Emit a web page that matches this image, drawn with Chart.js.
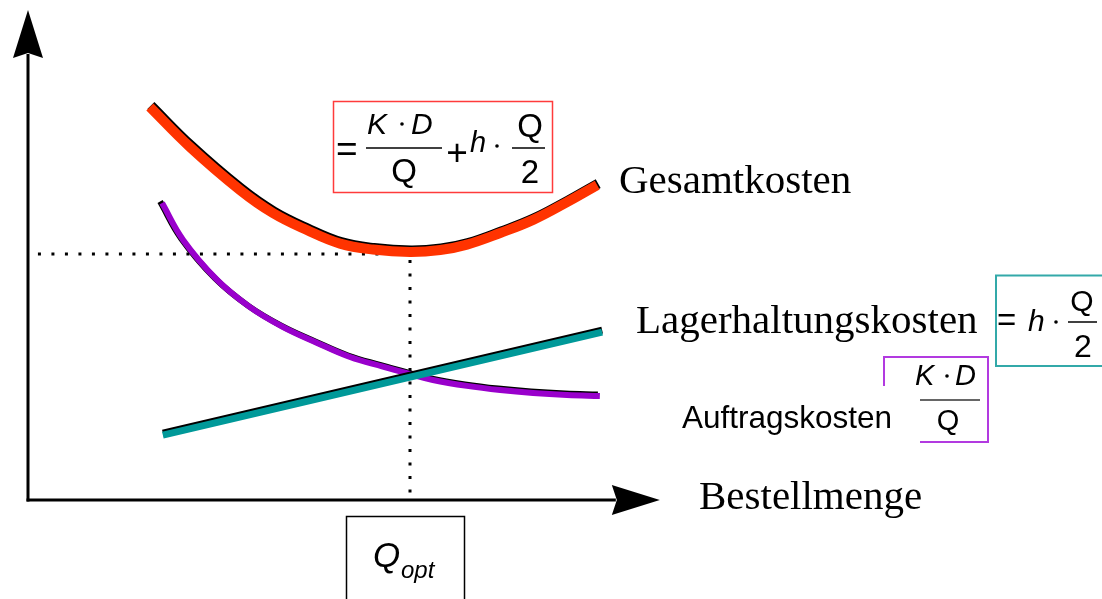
<!DOCTYPE html>
<html lang="de">
<head>
<meta charset="utf-8">
<title>Optimale Bestellmenge</title>
<script src="https://cdn.jsdelivr.net/npm/chart.js@4/dist/chart.umd.min.js"></script>
<style>
  html, body { margin: 0; padding: 0; background: #ffffff; }
  #rahmen { width: 1102px; height: 599px; position: relative; }
</style>
</head>
<body>
<div id="rahmen"><canvas id="kostenChart"></canvas></div>
<script>
// Werte: Bestellmenge Q (Qopt = 10) und Kosten
const mengeGesamt  = [3.19, 4.24, 5.55, 6.41, 7.30, 8.17, 9.03, 10.0, 10.79, 11.49, 12.36, 13.22, 14.11, 14.90];
const kostenGesamt = [15.91, 14.29, 12.55, 11.62, 10.93, 10.38, 10.14, 10.04, 10.12, 10.34, 10.81, 11.34, 12.06, 12.75];

const mengeAuftrag  = [3.51, 4.06, 4.95, 5.81, 6.68, 7.57, 8.43, 9.29, 10.0, 10.60, 11.49, 12.36, 13.22, 14.11, 14.97];
const kostenAuftrag = [12.02, 10.53, 8.91, 7.81, 7.00, 6.36, 5.79, 5.40, 5.10, 4.86, 4.62, 4.45, 4.33, 4.25, 4.21];

const mengeLager  = [3.53, 15.03];
const kostenLager = [2.63, 6.80];

// gepunktete Hilfslinie zum Minimum
const mengeHilfslinie  = [0.26, 10, 10];
const kostenHilfslinie = [9.96, 9.96, 0];

// Achsenenden (Pfeilspitzen)
const achseMengeEnde = 16.54;
const achseKostenEnde = 19.84;

const punkte = (xs, ys) => xs.map((x, i) => ({ x: x, y: ys[i] }));

// Schwarzer "Schatten" unter den farbigen Kurven (leicht versetzt)
const schattenPlugin = {
    id: 'schatten',
    beforeDatasetDraw(chart, args) {
        const v = chart.data.datasets[args.index].versatz;
        chart.ctx.save();
        if (v) chart.ctx.translate(v[0], v[1]);
    },
    afterDatasetDraw(chart) { chart.ctx.restore(); }
};

function pfeil(ctx, tx, ty, dx, dy) {
    const L = 48, w = 15, kerbe = 5;
    const nx = -dy, ny = dx;
    ctx.beginPath();
    ctx.moveTo(tx, ty);
    ctx.lineTo(tx - L * dx + w * nx, ty - L * dy + w * ny);
    ctx.lineTo(tx - (L - kerbe) * dx, ty - (L - kerbe) * dy);
    ctx.lineTo(tx - L * dx - w * nx, ty - L * dy - w * ny);
    ctx.closePath();
    ctx.fill();
}

function text(ctx, s, x, y, font, align) {
    ctx.font = font;
    ctx.textAlign = align || 'left';
    ctx.textBaseline = 'alphabetic';
    ctx.fillText(s, x, y);
}

function punkt(ctx, x, y) {
    ctx.beginPath();
    ctx.arc(x, y, 1.8, 0, Math.PI * 2);
    ctx.fill();
}

function linie(ctx, x1, y1, x2, y2, breite) {
    ctx.lineWidth = breite;
    ctx.beginPath();
    ctx.moveTo(x1, y1);
    ctx.lineTo(x2, y2);
    ctx.stroke();
}

const achsenPlugin = {
    id: 'achsen',
    beforeDatasetsDraw(chart) {
        const ctx = chart.ctx;
        const xs = chart.scales.x, ys = chart.scales.y;
        const x0 = xs.getPixelForValue(0), y0 = ys.getPixelForValue(0);
        const xEnde = xs.getPixelForValue(achseMengeEnde);
        const yEnde = ys.getPixelForValue(achseKostenEnde);
        ctx.save();
        ctx.strokeStyle = '#000000';
        ctx.fillStyle = '#000000';
        ctx.lineCap = 'butt';
        linie(ctx, x0, y0 + 1.5, x0, yEnde + 44, 3);
        linie(ctx, x0 - 1.5, y0, xEnde - 44, y0, 3);
        pfeil(ctx, x0, yEnde, 0, -1);
        pfeil(ctx, xEnde, y0, 1, 0);
        ctx.restore();
    },
    afterDraw(chart) {
        const ctx = chart.ctx;
        ctx.save();
        ctx.fillStyle = '#000000';
        ctx.strokeStyle = '#000000';

        // Beschriftungen
        const serif = '41px "Liberation Serif", "Times New Roman", serif';
        text(ctx, 'Gesamtkosten', 619, 193, serif);
        text(ctx, 'Lagerhaltungskosten', 636, 333, serif);
        text(ctx, 'Bestellmenge', 699, 509, serif);
        text(ctx, 'Auftragskosten', 682, 428, '31.5px "Liberation Sans", Arial, sans-serif');

        const sans = (px) => px + 'px "Liberation Sans", Arial, sans-serif';
        const kursiv = (px) => 'italic ' + px + 'px "Liberation Sans", Arial, sans-serif';

        // Formel Gesamtkosten (roter Kasten)
        ctx.strokeStyle = '#ff3b3b';
        ctx.lineWidth = 1.5;
        ctx.strokeRect(333.5, 101.5, 219, 91);
        ctx.strokeStyle = '#000000';
        text(ctx, '=', 336, 161, sans(37));
        text(ctx, 'K', 367, 134, kursiv(30));
        punkt(ctx, 402, 124);
        text(ctx, 'D', 411, 134, kursiv(30));
        linie(ctx, 366, 148, 442, 148, 1.5);
        text(ctx, 'Q', 404, 182, sans(33), 'center');
        text(ctx, '+', 457, 165, sans(37), 'center');
        text(ctx, 'h', 470, 152, kursiv(29));
        punkt(ctx, 497, 146);
        linie(ctx, 512, 148, 545, 148, 1.5);
        text(ctx, 'Q', 530, 137, sans(33), 'center');
        text(ctx, '2', 530, 183, sans(33), 'center');

        // Formel Lagerhaltungskosten (tuerkiser Kasten)
        ctx.strokeStyle = '#33a9a9';
        ctx.lineWidth = 2;
        ctx.strokeRect(996, 275.5, 200, 90.5);
        ctx.strokeStyle = '#000000';
        text(ctx, '=', 997, 331, sans(33));
        text(ctx, 'h', 1028, 331, kursiv(30));
        punkt(ctx, 1056, 322);
        linie(ctx, 1068, 322, 1097, 322, 1.5);
        text(ctx, 'Q', 1082, 311, sans(30), 'center');
        text(ctx, '2', 1083, 357, sans(32), 'center');

        // Formel Auftragskosten (violetter Kasten, offen)
        ctx.strokeStyle = '#b23ae0';
        ctx.lineWidth = 2;
        ctx.beginPath();
        ctx.moveTo(884, 386);
        ctx.lineTo(884, 357);
        ctx.lineTo(988, 357);
        ctx.lineTo(988, 442);
        ctx.lineTo(920, 442);
        ctx.stroke();
        ctx.strokeStyle = '#333333';
        text(ctx, 'K', 915, 385, kursiv(29));
        punkt(ctx, 947, 376);
        text(ctx, 'D', 955, 385, kursiv(29));
        linie(ctx, 920, 400, 980, 400, 1.5);
        text(ctx, 'Q', 948, 430, sans(29), 'center');

        // Qopt-Kasten
        ctx.strokeStyle = '#000000';
        ctx.lineWidth = 1.5;
        ctx.strokeRect(346.5, 516.5, 118, 100);
        text(ctx, 'Q', 373, 567, kursiv(35));
        text(ctx, 'opt', 401, 578, kursiv(24));

        ctx.restore();
    }
};

const linienStil = { showLine: true, pointRadius: 0, pointHoverRadius: 0, fill: false, borderCapStyle: 'butt', tension: 0.4 };
const kurve = (extra) => Object.assign({}, linienStil, extra);

new Chart(document.getElementById('kostenChart'), {
    type: 'scatter',
    data: {
        datasets: [
            kurve({ label: 'Lagerhaltungskosten', data: punkte(mengeLager, kostenLager),
                borderColor: '#009999', borderWidth: 7, order: 0 }),
            kurve({ label: 'Lager Schatten', data: punkte(mengeLager, kostenLager),
                borderColor: '#000000', borderWidth: 7, versatz: [0, -2], order: 1 }),
            kurve({ label: 'Auftragskosten', data: punkte(mengeAuftrag, kostenAuftrag),
                borderColor: '#9900cc', borderWidth: 6, order: 2 }),
            kurve({ label: 'Auftrag Schatten', data: punkte(mengeAuftrag, kostenAuftrag),
                borderColor: '#000000', borderWidth: 6, versatz: [-2, -1.5], order: 3 }),
            kurve({ label: 'Gesamtkosten', data: punkte(mengeGesamt, kostenGesamt),
                borderColor: '#ff3300', borderWidth: 10, order: 4 }),
            kurve({ label: 'Gesamt Schatten', data: punkte(mengeGesamt, kostenGesamt),
                borderColor: '#000000', borderWidth: 10, versatz: [1, -1.5], order: 5 }),
            kurve({ label: 'Hilfslinie', data: punkte(mengeHilfslinie, kostenHilfslinie),
                borderColor: '#000000', borderWidth: 3, borderDash: [3, 10.5], tension: 0, order: 6 })
        ]
    },
    options: {
        responsive: true,
        maintainAspectRatio: false,
        animation: false,
        events: [],
        layout: { padding: 0 },
        plugins: { legend: { display: false }, tooltip: { enabled: false } },
        scales: {
            x: { type: 'linear', display: false, min: -0.733, max: 28.115 },
            y: { type: 'linear', display: false, min: -4.008, max: 20.243 }
        }
    },
    plugins: [schattenPlugin, achsenPlugin]
});
</script>
</body>
</html>
